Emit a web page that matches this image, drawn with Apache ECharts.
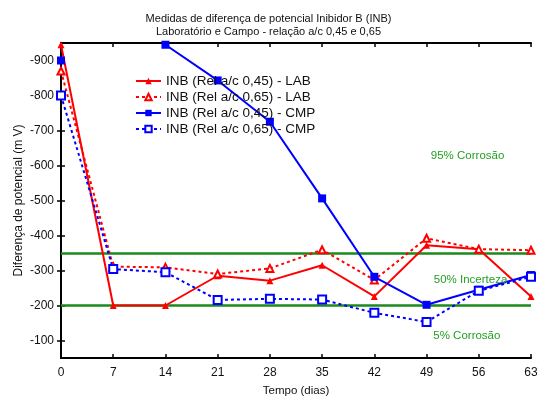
<!DOCTYPE html>
<html>
<head>
<meta charset="utf-8">
<script src="https://cdn.jsdelivr.net/npm/echarts@6/dist/echarts.min.js"></script>
<style>
html,body{margin:0;padding:0;background:#fff;}
#chart{width:537px;height:396px;}
</style>
</head>
<body>
<div id="chart"></div>
<script>
const days = [0, 7, 14, 21, 28, 35, 42, 49, 56, 63];
const yTicks = [-900, -800, -700, -600, -500, -400, -300, -200, -100];
const seriesNames = [
  'INB (Rel a/c 0,45) - LAB',
  'INB (Rel a/c 0,65) - LAB',
  'INB (Rel a/c 0,45) - CMP',
  'INB (Rel a/c 0,65) - CMP'
];
const lab045 = [-945, -200, -200, -285, -271, -315, -226, -372, -361, -226];
const lab065 = [-870, -311, -309, -290, -306, -359, -273, -392, -361, -358];
const cmp045 = [-900, null, -945, -843, -725, -506, -282, -202, -245, -287];
const cmp065 = [-800, -304, -295, -216, -219, -217, -179, -153, -242, -282];
const refLines = [-350, -200];
const zoneTexts = ['95% Corrosão', '50% Incerteza', '5% Corrosão'];
const zoneTextAt = [[54.5, -627], [54.9, -273], [54.4, -114]];

const pair = arr => days.map((d, i) => [d, arr[i]]);
const FONT = 'Liberation Sans, Arial, sans-serif';

const chart = echarts.init(document.getElementById('chart'));
const axisBase = {
  axisLine: {show: true, lineStyle: {color: '#000', width: 2}},
  splitLine: {show: false}
};
chart.setOption({
  animation: false,
  backgroundColor: '#fff',
  title: {
    text: 'Medidas de diferença de potencial Inibidor B (INB)\nLaboratório e Campo - relação a/c 0,45 e 0,65',
    left: 'center', top: 7,
    textStyle: {fontFamily: FONT, fontSize: 11, fontWeight: 'normal', color: '#111', lineHeight: 13}
  },
  legend: {
    orient: 'vertical', left: 130, top: 69, itemWidth: 25, itemHeight: 8, itemGap: 2,
    data: seriesNames,
    textStyle: {fontFamily: FONT, fontSize: 13.5, color: '#111'}
  },
  grid: {left: 61, right: 6, top: 43, bottom: 38, outerBoundsMode: 'none', containLabel: false},
  xAxis: [
    Object.assign({}, axisBase, {
      type: 'value', min: 0, max: 63, interval: 7,
      axisTick: {show: true, inside: true, length: 4, lineStyle: {color: '#000', width: 1.5}},
      axisLabel: {fontFamily: FONT, fontSize: 12, color: '#111', margin: 9},
      name: 'Tempo (dias)', nameLocation: 'middle', nameGap: 27,
      nameTextStyle: {fontFamily: FONT, fontSize: 11.5, color: '#111'}
    }),
    Object.assign({}, axisBase, {
      type: 'value', min: 0, max: 63, interval: 7, position: 'top',
      axisTick: {show: true, inside: true, length: 4, lineStyle: {color: '#000', width: 1.5}},
      axisLabel: {show: false}
    })
  ],
  yAxis: [
    Object.assign({}, axisBase, {
      type: 'value', min: -950, max: -50, inverse: true,
      axisTick: {show: true, inside: true, length: 4, customValues: yTicks, lineStyle: {color: '#000', width: 1.5}},
      axisLabel: {fontFamily: FONT, fontSize: 12, color: '#111', margin: 7, customValues: yTicks},
      name: 'Diferença de potencial (m V)', nameLocation: 'middle', nameGap: 36, nameMoveOverlap: false,
      nameTextStyle: {fontFamily: FONT, fontSize: 12, color: '#111'}
    }),
    Object.assign({}, axisBase, {
      type: 'value', min: -950, max: -50, inverse: true, position: 'right',
      axisTick: {show: true, inside: true, length: 4, customValues: yTicks, lineStyle: {color: '#000', width: 1.5}},
      axisLabel: {show: false}
    })
  ],
  series: [
    {
      name: seriesNames[0], type: 'line', data: pair(lab045), z: 3,
      symbol: 'triangle', symbolSize: 7,
      itemStyle: {color: '#ff0000'}, lineStyle: {color: '#ff0000', width: 2},
      markLine: {
        silent: true, symbol: 'none', label: {show: false}, z: 1,
        lineStyle: {color: '#1b8a1b', width: 2.5, type: 'solid'},
        data: refLines.map(v => ({yAxis: v}))
      },
      markPoint: {
        silent: true, symbol: 'circle', symbolSize: 0,
        label: {show: true, fontFamily: FONT, fontSize: 11.5, color: '#22a022', formatter: p => p.name},
        data: zoneTexts.map((t, i) => ({name: t, coord: zoneTextAt[i]}))
      }
    },
    {
      name: seriesNames[1], type: 'line', data: pair(lab065), z: 3,
      symbol: 'emptyTriangle', symbolSize: 7,
      itemStyle: {color: '#ff0000', borderWidth: 1.5}, lineStyle: {color: '#ff0000', width: 2, type: [3, 3]}
    },
    {
      name: seriesNames[2], type: 'line', data: pair(cmp045), z: 3, connectNulls: false,
      symbol: 'rect', symbolSize: 8,
      itemStyle: {color: '#0000ff'}, lineStyle: {color: '#0000ff', width: 2}
    },
    {
      name: seriesNames[3], type: 'line', data: pair(cmp065), z: 3,
      symbol: 'emptyRect', symbolSize: 8,
      itemStyle: {color: '#0000ff', borderWidth: 1.5}, lineStyle: {color: '#0000ff', width: 2, type: [3, 3]}
    }
  ]
});
</script>
</body>
</html>
